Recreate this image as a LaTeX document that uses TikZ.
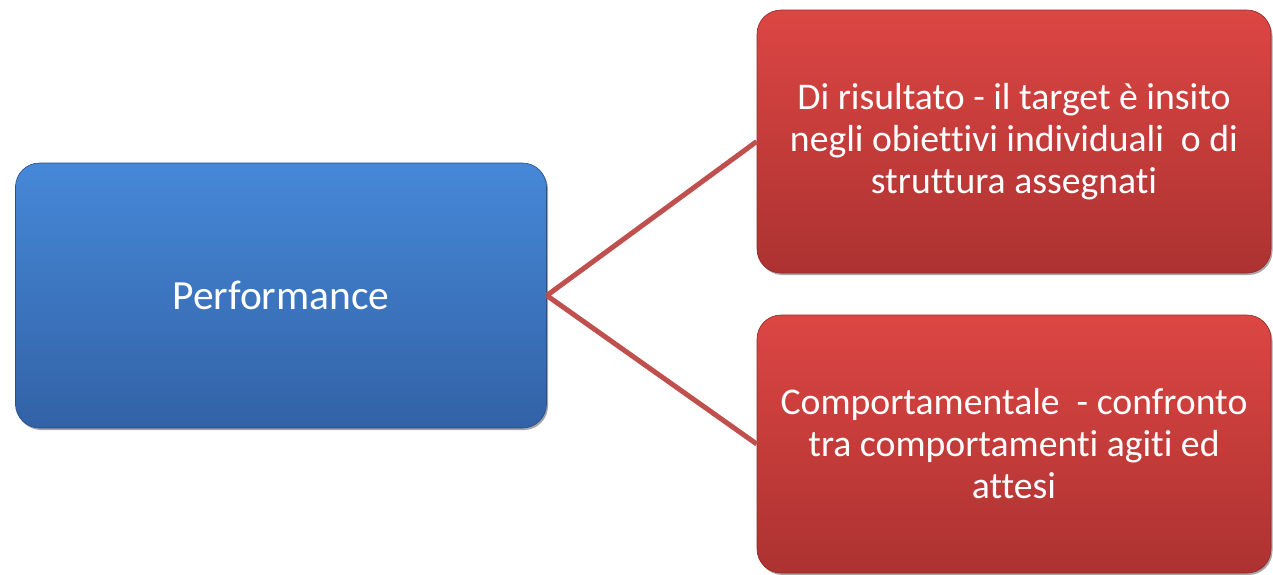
\documentclass[tikz,border=0pt]{standalone}
\usepackage{fontspec}
\setmainfont[Ligatures=NoCommon]{Carlito}
\usetikzlibrary{shadows}
\definecolor{bluetop}{HTML}{4688D8}
\definecolor{bluebot}{HTML}{3262A6}
\definecolor{redtop}{HTML}{DC4643}
\definecolor{redbot}{HTML}{AC3231}
\definecolor{linkred}{HTML}{C0504D}
\tikzset{
  card/.style={rectangle, rounded corners=24pt, inner sep=0pt, align=center,
    text=white, font=\fontsize{37.7}{42}\selectfont,
    drop shadow={shadow xshift=1.5pt, shadow yshift=-2pt, opacity=0.35, fill=black}},
  bluecard/.style={card, top color=bluetop, bottom color=bluebot, draw=bluebot!80!black, line width=0.6pt},
  redcard/.style={card, top color=redtop, bottom color=redbot, draw=redbot!85!black, line width=0.6pt},
  link/.style={draw=linkred, line width=5pt}
}
\begin{document}
\begin{tikzpicture}[x=1pt,y=-1pt]
\useasboundingbox (0,0) rectangle (1273,574);
\node[bluecard, minimum width=531pt, minimum height=265pt, font=\fontsize{41.5}{48}\selectfont] (perf) at (281,295.5) {Performance};
\node[redcard, minimum width=514pt, minimum height=263pt] (ris) at (1014,141.5)
  {Di risultato - il target è insito\\negli obiettivi individuali\ \ o di\\struttura assegnati};
\node[redcard, minimum width=514pt, minimum height=258pt] (comp) at (1014,444)
  {Comportamentale\ \ - confronto\\tra comportamenti agiti ed\\attesi};
\draw[link] (perf.east) -- (ris.west);
\draw[link] (perf.east) -- (comp.west);
\end{tikzpicture}
\end{document}
